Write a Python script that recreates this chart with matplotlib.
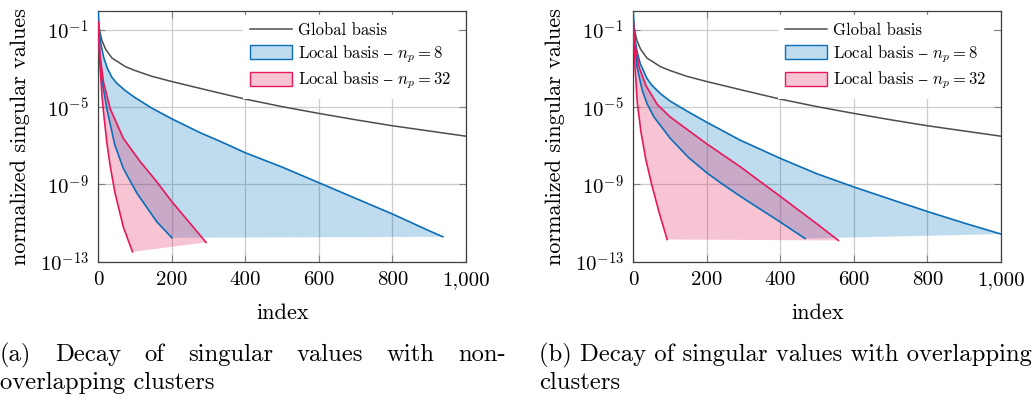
import numpy as np
import matplotlib
matplotlib.use("Agg")
import matplotlib.pyplot as plt
from matplotlib.patches import Patch
from matplotlib.lines import Line2D
from matplotlib.colors import to_rgba
from matplotlib.ticker import FuncFormatter, FixedLocator

plt.rcParams['font.family'] = ['cmr10', 'DejaVu Serif']
plt.rcParams['mathtext.fontset'] = 'cm'
plt.rcParams['axes.unicode_minus'] = False
plt.rcParams['axes.formatter.use_mathtext'] = True

# ---------------- data (log10 of normalized singular values) ----------------
global_idx = [0, 2, 5, 10, 20, 37, 74, 100, 146, 200, 300, 400, 500, 600, 700, 800, 900, 1000]
global_log = [-0.6, -0.85, -1.15, -1.55, -2.0, -2.45, -2.9, -3.1, -3.4, -3.67, -4.13, -4.58,
              -4.97, -5.32, -5.65, -5.96, -6.23, -6.5]

# (a) non-overlapping clusters
a_np8_hi_idx = [0, 2, 5, 10, 15, 25, 37, 50, 74, 100, 146, 200, 277, 332, 400, 500, 600, 700, 800, 900, 937]
a_np8_hi_log = [-0.1, -0.9, -1.5, -2.0, -2.45, -3.0, -3.45, -3.75, -4.15, -4.5, -5.05, -5.6, -6.32,
                -6.77, -7.36, -8.1, -8.91, -9.72, -10.53, -11.4, -11.71]
a_np8_lo_idx = [0, 3, 9, 23, 45, 68, 105, 159, 200]
a_np8_lo_log = [-0.6, -2.0, -3.5, -5.06, -6.96, -8.17, -9.45, -10.93, -11.76]
a_np32_hi_idx = [0, 2, 5, 14, 32, 68, 114, 159, 200, 250, 293]
a_np32_hi_log = [-0.6, -1.5, -2.35, -3.68, -5.06, -6.61, -7.82, -8.86, -9.89, -11.02, -12.0]
a_np32_lo_idx = [0, 2, 5, 10, 14, 23, 32, 45, 68, 93]
a_np32_lo_log = [-0.6, -1.8, -3.0, -4.4, -5.2, -6.8, -8.0, -9.4, -11.2, -12.49]

# (b) overlapping clusters
b_np8_hi_idx = [0, 2, 5, 10, 19, 37, 50, 74, 100, 146, 200, 290, 400, 500, 600, 700, 800, 900, 1000]
b_np8_hi_log = [-0.1, -0.8, -1.5, -2.1, -2.75, -3.5, -3.85, -4.3, -4.68, -5.2, -5.78, -6.7, -7.65,
                -8.45, -9.13, -9.77, -10.4, -11.0, -11.57]
b_np8_lo_idx = [0, 3, 10, 24, 37, 56, 100, 150, 200, 240, 290, 400, 467]
b_np8_lo_log = [-0.5, -1.6, -2.9, -4.1, -4.8, -5.5, -6.6, -7.6, -8.4, -8.95, -9.6, -10.95, -11.8]
b_np32_hi_idx = [0, 2, 5, 16, 35, 65, 100, 150, 200, 290, 400, 500, 558]
b_np32_hi_log = [-0.6, -1.2, -1.8, -2.95, -3.9, -4.85, -5.5, -6.2, -6.9, -8.07, -9.62, -11.05, -11.9]
b_np32_lo_idx = [0, 2, 5, 11, 21, 34, 50, 71, 92]
b_np32_lo_log = [-0.6, -1.8, -3.0, -4.8, -6.3, -7.7, -9.0, -10.5, -11.85]

yticks_exp = [-13, -9, -5, -1]
xticks = [0, 200, 400, 600, 800, 1000]
legend_labels = ["Global basis", "Local basis $–$ $n_p = 8$", "Local basis $–$ $n_p = 32$"]
caption_a = (["(a)", "Decay", "of", "singular", "values", "with", "non-"], "overlapping clusters")
caption_b = ("(b) Decay of singular values with overlapping", "clusters")

# ---------------- style ----------------
C_GLOBAL = '#4d4d4d'
C_BLUE = '#0a6eb8'
C_PINK = '#e6195a'
FILL_BLUE = '#0072bd'
FILL_PINK = '#e31757'
FALPHA = 0.25

W, H = 1034, 400
fig = plt.figure(figsize=(W / 100, H / 100), dpi=100)

def ax_rect(x0, x1, ytop, ybot):
    return [x0 / W, 1 - ybot / H, (x1 - x0) / W, (ybot - ytop) / H]

axes = [fig.add_axes(ax_rect(98.3, 466, 10.7, 261.7)),
        fig.add_axes(ax_rect(633.3, 1001, 10.7, 261.7))]

panels = [
    (a_np8_hi_idx, a_np8_hi_log, a_np8_lo_idx, a_np8_lo_log,
     a_np32_hi_idx, a_np32_hi_log, a_np32_lo_idx, a_np32_lo_log),
    (b_np8_hi_idx, b_np8_hi_log, b_np8_lo_idx, b_np8_lo_log,
     b_np32_hi_idx, b_np32_hi_log, b_np32_lo_idx, b_np32_lo_log),
]

def pw(v):
    return np.power(10.0, np.asarray(v, dtype=float))

AXW = 466 - 98.3
AXH = 261.7 - 10.7

for ax, p in zip(axes, panels):
    h8i, h8l, l8i, l8l, h32i, h32l, l32i, l32l = p
    ax.set_yscale('log')
    ax.fill(list(h8i) + list(l8i)[::-1], list(pw(h8l)) + list(pw(l8l))[::-1],
            facecolor=FILL_BLUE, alpha=FALPHA, edgecolor='none', zorder=2)
    ax.fill(list(h32i) + list(l32i)[::-1], list(pw(h32l)) + list(pw(l32l))[::-1],
            facecolor=FILL_PINK, alpha=FALPHA, edgecolor='none', zorder=2.1)
    ax.plot(global_idx, pw(global_log), color=C_GLOBAL, lw=1.1, zorder=3)
    ax.plot(h8i, pw(h8l), color=C_BLUE, lw=1.2, zorder=3)
    ax.plot(l8i, pw(l8l), color=C_BLUE, lw=1.2, zorder=3)
    ax.plot(h32i, pw(h32l), color=C_PINK, lw=1.2, zorder=3)
    ax.plot(l32i, pw(l32l), color=C_PINK, lw=1.2, zorder=3)

    ax.set_xlim(0, 1000)
    ax.set_ylim(1e-13, 1.0)
    ax.xaxis.set_major_locator(FixedLocator(xticks))
    ax.xaxis.set_major_formatter(FuncFormatter(lambda v, pos: f"{int(v):,}"))
    ax.yaxis.set_major_locator(FixedLocator([10.0 ** e for e in yticks_exp]))
    ax.yaxis.set_major_formatter(FuncFormatter(lambda v, pos: r"$10^{%d}$" % round(np.log10(v))))
    ax.yaxis.set_minor_locator(FixedLocator([]))
    ax.grid(True, which='major', color='#cccccc', lw=0.9, zorder=0)
    ax.set_axisbelow(True)
    ax.tick_params(axis='both', which='major', direction='in', length=5, width=0.8,
                   color='#808080', labelsize=15, top=True, right=True, labelcolor='black')
    ax.tick_params(axis='y', pad=7)
    ax.tick_params(axis='x', pad=7)
    for s in ax.spines.values():
        s.set_color('#404040')
        s.set_linewidth(0.9)
    ax.set_xlabel("index", fontsize=16)
    ax.set_ylabel("normalized singular values", fontsize=16)
    ax.xaxis.set_label_coords(0.5, -(303 - 261.7) / AXH)
    ax.yaxis.set_label_coords(-(98.3 - 30) / AXW, 0.5)

    handles = [Line2D([0], [0], color=C_GLOBAL, lw=1.1),
               Patch(facecolor=to_rgba(FILL_BLUE, FALPHA), edgecolor=C_BLUE, lw=1.0),
               Patch(facecolor=to_rgba(FILL_PINK, FALPHA), edgecolor=C_PINK, lw=1.0)]
    leg = ax.legend(handles, legend_labels, loc='upper right',
                    bbox_to_anchor=(1 - 8 / AXW, 1 - 4 / AXH), fontsize=12,
                    frameon=True, fancybox=False, framealpha=1.0, edgecolor='none',
                    facecolor='white', handlelength=2.5, handleheight=0.9,
                    labelspacing=0.3, borderaxespad=0.0, handletextpad=0.35, borderpad=0.45)
    leg.set_zorder(5)

# ---------------- captions ----------------
fig.canvas.draw()
renderer = fig.canvas.get_renderer()

def text_width(s, fs):
    t = fig.text(0, 0, s, fontsize=fs)
    w = t.get_window_extent(renderer).width
    t.remove()
    return w

target_b = 1032 - 539
fs_cap = 17 * target_b / text_width(caption_b[0], 17)

y1 = 1 - 355 / H
y2 = 1 - 383 / H
words, line2 = caption_a
widths = [text_width(wd, fs_cap) for wd in words]
x_start, x_end = 0.0, 506.0
gap = (x_end - x_start - sum(widths)) / (len(words) - 1)
xp = x_start
for wd, wdt in zip(words, widths):
    fig.text(xp / W, y1, wd, fontsize=fs_cap, ha='left', va='center')
    xp += wdt + gap
fig.text(0 / W, y2, line2, fontsize=fs_cap, ha='left', va='center')
fig.text(539 / W, y1, caption_b[0], fontsize=fs_cap, ha='left', va='center')
fig.text(539 / W, y2, caption_b[1], fontsize=fs_cap, ha='left', va='center')

fig.savefig("out.png", dpi=100)
